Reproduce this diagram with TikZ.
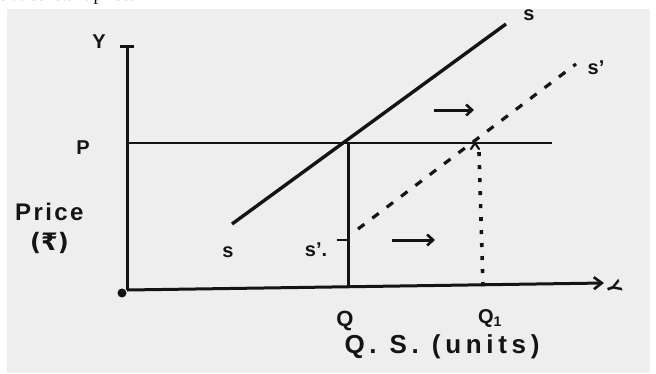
\documentclass[tikz,border=0pt]{standalone}
\usepackage{fontspec}
\setmainfont{Liberation Sans}
\newfontfamily\seriffont{Liberation Serif}
\newfontfamily\symfont{DejaVu Sans}
\usetikzlibrary{arrows.meta}
\definecolor{paper}{RGB}{238,238,238}
\definecolor{ink}{RGB}{20,20,20}
\begin{document}
\begin{tikzpicture}[x=1pt,y=-1pt,
  hand/.style={font=\bfseries\fontsize{#1}{#1}\selectfont, text=ink, inner sep=0pt},
  hand/.default=20,
  axisline/.style={draw=ink, line width=3pt},
  priceline/.style={draw=ink, line width=1.6pt},
  supplyline/.style={draw=ink, line width=3.4pt},
  dashcurve/.style={draw=ink, line width=3.2pt, dash pattern=on 8pt off 10pt},
  dotline/.style={draw=ink, line width=3.6pt, dash pattern=on 4pt off 9pt},
  shiftarrow/.style={draw=ink, line width=3pt, -{Straight Barb[length=6pt,width=11pt,line width=2.6pt]}}
]
\useasboundingbox (0,0) rectangle (656,373);
\fill[paper] (7,9) rectangle (650,373);
\node[anchor=base west, inner sep=0pt, font=\seriffont\fontsize{18}{18}\selectfont] (cut) at (0,0.5) {s at constant price.};

% coordinates
\coordinate (O) at (127,290);
\coordinate (Ytop) at (127,46);
\coordinate (Xend) at (604,283);
\coordinate (Pl) at (127,143);
\coordinate (Pr) at (552,143);
\coordinate (Sa) at (232,224);
\coordinate (Sb) at (506,24);
\coordinate (E) at (348,143);
\coordinate (Qb) at (348,288);
\coordinate (S1a) at (358,229);
\coordinate (S1b) at (576,64);
\coordinate (E1) at (479,152);
\coordinate (Q1b) at (483,286);
\coordinate (A1a) at (434,110);
\coordinate (A1b) at (474,110);
\coordinate (A2a) at (392,240);
\coordinate (A2b) at (435,240);
\coordinate (Ta) at (337,240);
\coordinate (Tb) at (348,240);

% axes
\draw[axisline] (O) -- (Ytop);
\draw[axisline] (Ytop) ++(-7,0) -- ++(14,0);
\draw[axisline, -{Straight Barb[length=8pt,width=12pt,line width=2.6pt]}] (O) -- (Xend);
\fill[ink] (122,293) circle (4.5pt);

% price line
\draw[priceline] (Pl) -- (Pr);
% supply curves
\draw[supplyline] (Sa) -- (Sb);
\draw[dashcurve] (S1a) -- (S1b);
% Q line
\draw[axisline] (E) -- (Qb);
\draw[line width=2pt, draw=ink] (Ta) -- (Tb);
% Q1 dotted line
\draw[dotline] (Q1b) -- (E1);
\draw[line width=2.2pt, draw=ink, line cap=round] (471,149) -- (475,143) -- (479,149);

% shift arrows
\draw[shiftarrow] (A1a) -- (A1b);
\draw[shiftarrow] (A2a) -- (A2b);

% labels
\node[hand=20] (ylab) at (99,42) {Y};
\node[hand=20, rotate=-70] (xlab) at (614,287) {Y};
\node[hand=20] (plab) at (83,148) {P};
\node[hand=24, anchor=west] (price) at (15,212) {\addfontfeatures{LetterSpace=10}Price};
\node[hand=24, anchor=west] (rupee) at (30,243) {\symfont\bfseries(₹)};
\node[hand=22] (qlab) at (345,321) {Q};
\node[hand=20] (q1lab) at (490,318) {Q\textsubscript{1}};
\node[hand=26] (qs) at (442,347) {\addfontfeatures{LetterSpace=18}Q.\,\,\,S.\,\,\,(units)};
\node[hand=20] (stop) at (529,15) {s};
\node[hand=20] (sbot) at (228,252) {s};
\node[hand=20] (s1top) at (596,68) {s'};
\node[hand=20] (s1bot) at (316,250) {s'.};
\end{tikzpicture}
\end{document}
